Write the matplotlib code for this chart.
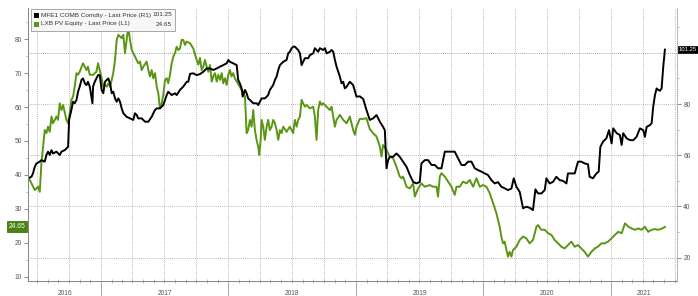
import matplotlib.pyplot as plt
import matplotlib.dates as mdates
import matplotlib.transforms as mtransforms
from matplotlib.patches import Rectangle
import pandas as pd

# LXB PV Equity (left axis), time in decimal years
green_t = [2016.430, 2016.457, 2016.483, 2016.509, 2016.522, 2016.535, 2016.548, 2016.561, 2016.574, 2016.587,
           2016.600, 2016.614, 2016.626, 2016.653, 2016.665, 2016.679, 2016.692, 2016.705, 2016.731, 2016.744,
           2016.757, 2016.770, 2016.783, 2016.796, 2016.810, 2016.822, 2016.835, 2016.861, 2016.888, 2016.900,
           2016.914, 2016.940, 2016.966, 2016.979, 2016.992, 2017.005, 2017.018, 2017.031, 2017.045, 2017.057,
           2017.071, 2017.084, 2017.096, 2017.110, 2017.123, 2017.136, 2017.149, 2017.162, 2017.175, 2017.188,
           2017.201, 2017.214, 2017.227, 2017.241, 2017.253, 2017.266, 2017.292, 2017.306, 2017.319, 2017.332,
           2017.358, 2017.371, 2017.384, 2017.397, 2017.410, 2017.423, 2017.437, 2017.449, 2017.462, 2017.476,
           2017.488, 2017.502, 2017.515, 2017.527, 2017.541, 2017.554, 2017.567, 2017.580, 2017.593, 2017.606,
           2017.619, 2017.632, 2017.645, 2017.658, 2017.672, 2017.698, 2017.723, 2017.750, 2017.763, 2017.776,
           2017.789, 2017.802, 2017.815, 2017.828, 2017.841, 2017.854, 2017.868, 2017.880, 2017.893, 2017.907,
           2017.919, 2017.933, 2017.946, 2017.958, 2017.972, 2017.985, 2017.998, 2018.011, 2018.024, 2018.037,
           2018.050, 2018.064, 2018.089, 2018.103, 2018.115, 2018.129, 2018.142, 2018.154, 2018.168, 2018.181,
           2018.194, 2018.207, 2018.220, 2018.233, 2018.241, 2018.252, 2018.259, 2018.272, 2018.285, 2018.299,
           2018.311, 2018.324, 2018.338, 2018.350, 2018.364, 2018.377, 2018.390, 2018.403, 2018.416, 2018.429,
           2018.455, 2018.481, 2018.507, 2018.520, 2018.534, 2018.546, 2018.560, 2018.573, 2018.585, 2018.599,
           2018.612, 2018.638, 2018.664, 2018.677, 2018.690, 2018.703, 2018.716, 2018.730, 2018.742, 2018.769,
           2018.795, 2018.808, 2018.821, 2018.834, 2018.847, 2018.873, 2018.899, 2018.926, 2018.951, 2018.977,
           2018.991, 2019.004, 2019.030, 2019.056, 2019.082, 2019.108, 2019.134, 2019.161, 2019.187, 2019.200,
           2019.212, 2019.239, 2019.265, 2019.291, 2019.317, 2019.343, 2019.357, 2019.369, 2019.396, 2019.422,
           2019.448, 2019.461, 2019.487, 2019.513, 2019.539, 2019.578, 2019.604, 2019.631, 2019.643, 2019.657,
           2019.670, 2019.696, 2019.722, 2019.748, 2019.774, 2019.788, 2019.813, 2019.839, 2019.866, 2019.892,
           2019.918, 2019.944, 2019.970, 2019.996, 2020.023, 2020.049, 2020.075, 2020.101, 2020.127, 2020.140,
           2020.153, 2020.166, 2020.180, 2020.192, 2020.205, 2020.219, 2020.231, 2020.258, 2020.284, 2020.310,
           2020.336, 2020.362, 2020.388, 2020.415, 2020.427, 2020.454, 2020.480, 2020.506, 2020.532, 2020.558,
           2020.584, 2020.611, 2020.636, 2020.662, 2020.689, 2020.715, 2020.741, 2020.767, 2020.793, 2020.819,
           2020.846, 2020.872, 2020.897, 2020.924, 2020.950, 2020.976, 2021.002, 2021.028, 2021.054, 2021.081,
           2021.107, 2021.133, 2021.159, 2021.185, 2021.211, 2021.238, 2021.263, 2021.289, 2021.316, 2021.342,
           2021.368, 2021.394, 2021.420]
green_v = [39.5, 37.5, 35.5, 36.5, 35.0, 43.4, 48.3, 53.2, 52.3, 54.2,
           52.7, 57.2, 55.2, 57.2, 56.2, 61.1, 59.1, 60.6, 56.2, 55.2,
           58.2, 62.1, 63.1, 66.0, 70.0, 69.5, 70.4, 72.9, 70.9, 71.9,
           69.5, 69.5, 70.4, 72.9, 70.9, 68.5, 66.0, 66.5, 66.0, 67.0,
           66.0, 68.0, 70.0, 73.9, 79.8, 81.3, 80.8, 80.3, 81.3, 75.9,
           79.8, 83.7, 79.8, 76.8, 75.9, 74.9, 72.9, 73.4, 70.9, 71.9,
           73.4, 70.9, 69.0, 70.9, 68.5, 70.0, 66.0, 64.1, 59.6, 61.1,
           63.6, 68.0, 68.5, 67.0, 69.5, 72.9, 74.9, 75.9, 77.8, 76.8,
           77.3, 79.8, 79.8, 78.3, 79.3, 78.8, 77.3, 73.9, 72.5, 74.5,
           70.9, 71.9, 73.9, 71.9, 70.4, 72.4, 67.5, 69.0, 70.0, 67.5,
           69.5, 68.0, 70.0, 67.0, 68.5, 66.5, 69.5, 70.9, 69.0, 70.0,
           68.5, 67.5, 66.0, 65.0, 64.5, 63.1, 52.3, 53.2, 56.2, 54.2,
           59.1, 53.2, 50.3, 48.3, 45.9, 50.3, 56.2, 54.2, 50.3, 54.2,
           56.2, 53.2, 54.2, 56.2, 55.2, 53.2, 50.3, 53.2, 52.3, 54.2,
           52.7, 54.2, 52.3, 56.2, 54.2, 56.2, 57.2, 62.1, 61.1, 60.1,
           60.6, 59.6, 60.1, 57.2, 50.3, 59.1, 61.6, 60.6, 61.1, 60.1,
           59.1, 60.1, 57.2, 54.2, 56.2, 57.7, 56.2, 55.2, 57.2, 53.2,
           51.8, 54.2, 56.5, 56.5, 56.7, 53.5, 52.3, 51.3, 48.3, 45.4,
           48.8, 47.3, 45.4, 44.9, 42.4, 39.5, 39.0, 39.5, 36.5, 36.0,
           37.5, 33.6, 36.0, 37.5, 36.5, 37.0, 36.5, 36.5, 33.6, 39.5,
           40.5, 39.5, 38.0, 36.5, 34.1, 36.5, 36.5, 38.0, 37.5, 38.5,
           36.5, 39.0, 36.5, 37.0, 36.5, 34.6, 31.6, 28.7, 24.7, 21.8,
           19.8, 20.3, 17.8, 15.9, 17.3, 15.9, 17.8, 18.8, 20.8, 21.8,
           21.3, 19.8, 20.8, 24.7, 25.2, 23.8, 23.8, 22.8, 22.3, 20.8,
           19.8, 18.8, 18.3, 19.3, 20.3, 18.8, 19.3, 18.3, 17.3, 15.9,
           17.3, 18.3, 18.8, 19.8, 19.8, 20.3, 21.3, 22.3, 23.2, 22.8,
           25.7, 24.7, 24.2, 23.8, 24.2, 23.8, 24.7, 23.2, 23.8, 24.0,
           23.8, 24.1, 24.65]

# MFE1 COMB Comdty (right axis)
black_t = [2016.430, 2016.457, 2016.469, 2016.483, 2016.496, 2016.522, 2016.535, 2016.561, 2016.574, 2016.587,
           2016.600, 2016.614, 2016.626, 2016.653, 2016.679, 2016.692, 2016.718, 2016.744, 2016.752, 2016.770,
           2016.783, 2016.796, 2016.810, 2016.822, 2016.835, 2016.849, 2016.861, 2016.875, 2016.888, 2016.900,
           2016.914, 2016.927, 2016.935, 2016.940, 2016.953, 2016.966, 2016.979, 2016.992, 2017.005, 2017.018,
           2017.031, 2017.045, 2017.057, 2017.071, 2017.084, 2017.096, 2017.110, 2017.123, 2017.136, 2017.149,
           2017.162, 2017.175, 2017.201, 2017.227, 2017.253, 2017.266, 2017.280, 2017.292, 2017.319, 2017.345,
           2017.371, 2017.397, 2017.423, 2017.437, 2017.462, 2017.488, 2017.515, 2017.527, 2017.554, 2017.580,
           2017.593, 2017.619, 2017.645, 2017.672, 2017.684, 2017.698, 2017.723, 2017.750, 2017.776, 2017.802,
           2017.828, 2017.854, 2017.880, 2017.907, 2017.933, 2017.958, 2017.985, 2017.998, 2018.011, 2018.037,
           2018.064, 2018.076, 2018.089, 2018.103, 2018.111, 2018.129, 2018.142, 2018.154, 2018.168, 2018.194,
           2018.220, 2018.233, 2018.246, 2018.259, 2018.285, 2018.311, 2018.324, 2018.350, 2018.364, 2018.377,
           2018.390, 2018.403, 2018.429, 2018.455, 2018.468, 2018.481, 2018.495, 2018.507, 2018.520, 2018.546,
           2018.560, 2018.573, 2018.585, 2018.599, 2018.625, 2018.638, 2018.664, 2018.677, 2018.703, 2018.716,
           2018.742, 2018.756, 2018.769, 2018.795, 2018.808, 2018.821, 2018.834, 2018.847, 2018.873, 2018.886,
           2018.899, 2018.912, 2018.926, 2018.951, 2018.977, 2019.004, 2019.030, 2019.056, 2019.082, 2019.108,
           2019.134, 2019.161, 2019.187, 2019.212, 2019.226, 2019.239, 2019.252, 2019.265, 2019.291, 2019.317,
           2019.343, 2019.369, 2019.396, 2019.422, 2019.448, 2019.474, 2019.500, 2019.513, 2019.539, 2019.565,
           2019.592, 2019.618, 2019.643, 2019.670, 2019.696, 2019.722, 2019.748, 2019.774, 2019.800, 2019.827,
           2019.853, 2019.879, 2019.905, 2019.931, 2019.957, 2019.984, 2020.009, 2020.035, 2020.062, 2020.088,
           2020.114, 2020.140, 2020.166, 2020.192, 2020.219, 2020.237, 2020.258, 2020.284, 2020.310, 2020.336,
           2020.362, 2020.388, 2020.407, 2020.427, 2020.454, 2020.480, 2020.493, 2020.519, 2020.545, 2020.571,
           2020.597, 2020.623, 2020.650, 2020.662, 2020.689, 2020.715, 2020.741, 2020.767, 2020.793, 2020.819,
           2020.832, 2020.858, 2020.885, 2020.903, 2020.916, 2020.937, 2020.963, 2020.984, 2021.002, 2021.015,
           2021.042, 2021.067, 2021.081, 2021.093, 2021.120, 2021.146, 2021.172, 2021.198, 2021.224, 2021.250,
           2021.263, 2021.277, 2021.303, 2021.316, 2021.328, 2021.342, 2021.355, 2021.368, 2021.381, 2021.394,
           2021.407, 2021.420]
black_v = [51.0, 51.6, 52.9, 55.5, 56.8, 57.5, 58.1, 57.5, 60.1, 61.4,
           60.1, 62.0, 60.7, 61.4, 60.1, 61.4, 62.0, 63.3, 73.8, 77.7,
           80.9, 80.3, 81.6, 84.8, 86.8, 89.4, 90.0, 88.1, 87.4, 88.7,
           86.8, 82.9, 80.3, 86.8, 88.7, 90.0, 91.3, 91.3, 85.5, 84.2,
           88.7, 89.4, 90.0, 88.1, 84.2, 84.8, 82.2, 80.9, 82.2, 80.9,
           78.3, 76.4, 75.0, 74.4, 73.8, 76.4, 75.7, 74.4, 74.4, 73.1,
           73.1, 75.0, 77.7, 78.3, 78.3, 79.6, 83.5, 84.8, 83.5, 84.2,
           83.5, 85.5, 86.8, 88.7, 88.7, 91.8, 92.0, 91.3, 91.7, 92.6,
           93.9, 93.9, 93.3, 93.9, 94.6, 95.2, 95.9, 97.2, 96.5, 95.9,
           95.2, 89.4, 88.1, 86.1, 82.9, 85.5, 84.2, 82.2, 81.6, 80.3,
           80.3, 79.6, 80.9, 82.2, 82.2, 83.5, 85.5, 87.4, 89.4, 90.7,
           93.3, 95.2, 96.5, 97.2, 99.8, 100.4, 101.8, 102.4, 102.4, 101.1,
           99.8, 95.2, 96.5, 97.9, 97.9, 99.1, 99.8, 101.8, 100.4, 101.8,
           101.1, 101.8, 99.8, 100.4, 101.1, 100.4, 97.2, 94.6, 90.7, 88.1,
           88.7, 86.1, 86.8, 88.7, 87.4, 82.9, 83.0, 82.0, 77.7, 73.8,
           74.4, 75.7, 73.1, 71.1, 69.8, 54.9, 58.1, 59.4, 59.4, 60.7,
           59.4, 57.5, 55.5, 52.3, 49.6, 49.0, 49.6, 56.8, 58.1, 58.1,
           56.2, 56.2, 54.9, 54.9, 61.4, 61.4, 61.4, 61.4, 58.8, 56.2,
           56.2, 57.5, 57.5, 54.9, 54.2, 53.6, 52.9, 52.3, 50.3, 49.0,
           49.5, 47.7, 47.1, 46.4, 47.0, 51.0, 47.7, 45.7, 39.3, 39.9,
           39.5, 38.6, 46.7, 45.1, 45.1, 46.4, 51.0, 49.0, 49.6, 51.6,
           50.3, 50.0, 49.0, 52.9, 52.9, 52.9, 57.5, 57.5, 56.8, 56.5,
           51.6, 51.0, 52.9, 53.6, 63.3, 65.3, 66.6, 69.8, 64.6, 70.5,
           68.6, 67.9, 64.0, 68.6, 66.6, 65.9, 65.9, 67.2, 70.5, 69.8,
           67.2, 71.1, 71.8, 72.5, 78.9, 83.5, 86.1, 85.5, 85.2, 86.1,
           94.6, 101.25]

years = ['2016', '2017', '2018', '2019', '2020', '2021']
year_mid = ['2016-09-19', '2017-07-02', '2018-07-02', '2019-07-02', '2020-07-02', '2021-04-04']

green_last = 24.65
black_last = 101.25
green_label = 'LXB PV Equity - Last Price (L1)'
black_label = 'MFE1 COMB Comdty - Last Price (R1)'

GREEN = '#5a9614'
GRID = '#a0a0a0'
TXT = '#555555'


def to_dates(ts):
    out = []
    for t in ts:
        y = int(t)
        out.append(pd.Timestamp(year=y, month=1, day=1) + pd.Timedelta(days=(t - y) * 365.25))
    return out


plt.rcParams['font.family'] = ['Liberation Sans', 'DejaVu Sans']

W, H = 698, 296
fig = plt.figure(figsize=(W / 100, H / 100), dpi=100)
ax = fig.add_axes([28 / W, 1 - 281 / H, (677 - 28) / W, (281 - 8) / H])
ax2 = ax.twinx()

left_lim = (8.7, 89.2)
right_lim = (10.9, 117.5)
ax.set_ylim(*left_lim)
ax2.set_ylim(*right_lim)
x0, x1 = pd.Timestamp('2016-06-06'), pd.Timestamp('2021-07-08')
ax.set_xlim(x0, x1)

# grid: quarterly verticals, horizontals at the right-axis major ticks
for d in pd.date_range('2016-07-01', '2021-07-01', freq='QS'):
    ax.axvline(d, color=GRID, lw=0.6, ls=(0, (1, 1.5)), zorder=0.5)
for r in [20, 40, 60, 80, 100]:
    lv = left_lim[0] + (r - right_lim[0]) * (left_lim[1] - left_lim[0]) / (right_lim[1] - right_lim[0])
    ax.axhline(lv, color='#888888' if r == 100 else GRID, lw=0.6, ls=(0, (1, 1.5)), zorder=0.5)

ax.plot(to_dates(green_t), green_v, color=GREEN, lw=1.4, zorder=2)
ax2.plot(to_dates(black_t), black_v, color='black', lw=1.4, zorder=2)

# x axis: long year-boundary ticks, monthly minor ticks
ax.xaxis.set_major_locator(mdates.YearLocator())
ax.xaxis.set_major_formatter(plt.NullFormatter())
ax.xaxis.set_minor_locator(mdates.MonthLocator())
ax.tick_params(axis='x', which='major', length=15, width=0.6, color='#999999', direction='out')
ax.tick_params(axis='x', which='minor', length=3, width=0.5, color='#999999', direction='inout')
for lab, d in zip(years, year_mid):
    ax.text(pd.Timestamp(d), -0.045, lab, transform=mtransforms.blended_transform_factory(ax.transData, ax.transAxes),
            ha='center', va='center', fontsize=4.8, color=TXT, clip_on=False)

# y axes
ax.set_yticks([10, 20, 30, 40, 50, 60, 70, 80])
ax.set_yticks([15, 25, 35, 45, 55, 65, 75, 85], minor=True)
ax.tick_params(axis='y', which='major', labelsize=4.8, labelcolor=TXT, length=3, width=0.6, color='#777777', pad=1.5)
ax.tick_params(axis='y', which='minor', length=1.5, width=0.5, color='#999999')
ax2.set_yticks([20, 40, 60, 80, 100])
ax2.set_yticklabels(['20', '40', '60', '80', ''])
ax2.set_yticks([30, 50, 70, 90, 110], minor=True)
ax2.tick_params(axis='y', which='major', labelsize=4.8, labelcolor=TXT, length=3, width=0.6, color='#777777', pad=1.5)
ax2.tick_params(axis='y', which='minor', length=1.5, width=0.5, color='#999999')

for a in (ax, ax2):
    a.spines['top'].set_visible(False)
    a.spines['left'].set_color('#888888')
    a.spines['bottom'].set_color('#888888')
    a.spines['right'].set_color('#bbbbbb')
    a.spines['left'].set_linewidth(0.7)
    a.spines['bottom'].set_linewidth(0.7)
    a.spines['right'].set_linewidth(0.6)

# last-value tags
ax.text(-0.004, green_last, f'{green_last:.2f}',
        transform=mtransforms.blended_transform_factory(ax.transAxes, ax.transData),
        ha='right', va='center', fontsize=4.8, color='white', clip_on=False,
        bbox=dict(boxstyle='square,pad=0.3', fc='#4a840e', ec='#355f08', lw=0.5))
ax2.text(1.003, black_last, f'{black_last:.2f}',
         transform=mtransforms.blended_transform_factory(ax2.transAxes, ax2.transData),
         ha='left', va='center', fontsize=4.2, color='white', clip_on=False, zorder=5,
         bbox=dict(boxstyle='square,pad=0.2', fc='black', ec='black', lw=0.5))

# legend box drawn by hand (top-left)
fig.patches.append(Rectangle((31 / W, 1 - 31 / H), 144 / W, 22 / H, transform=fig.transFigure,
                             fc='#f7f7f7', ec='#9a9a9a', lw=0.6, zorder=4))
rows = [(black_label, f'{black_last:.2f}', 'black', 15), (green_label, f'{green_last:.2f}', GREEN, 24)]
for lab, val, col, ypx in rows:
    fig.patches.append(Rectangle((33.5 / W, 1 - (ypx + 3) / H), 5.5 / W, 5.5 / H, transform=fig.transFigure,
                                 fc=col, ec=col, lw=0, zorder=5))
    fig.text(41 / W, 1 - ypx / H, lab, ha='left', va='center', fontsize=4.6, color='#333333', zorder=6)
    fig.text(172 / W, 1 - ypx / H, val, ha='right', va='center', fontsize=4.6, color='#333333', zorder=6)

fig.savefig('out.png', dpi=100)
